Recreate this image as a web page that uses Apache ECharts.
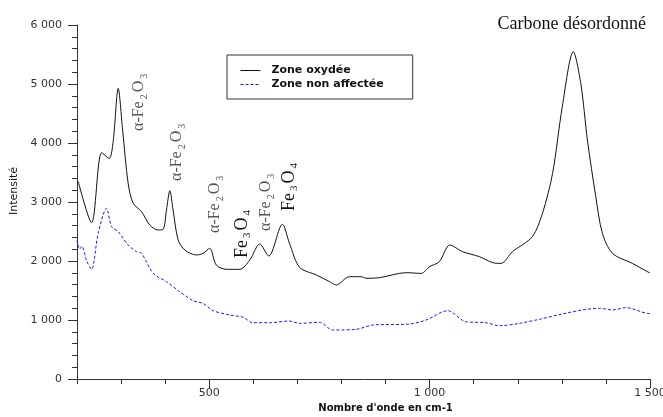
<!DOCTYPE html>
<html>
<head>
<meta charset="utf-8">
<script src="https://cdn.jsdelivr.net/npm/echarts@6/dist/echarts.min.js"></script>
<style>
  html, body { margin: 0; padding: 0; background: #fff; }
  #main { width: 663px; height: 417px; }
</style>
</head>
<body>
<div id="main"></div>
<script>
// Zone oxydée (trait plein noir)
var oxWave = [203, 233, 256, 273, 282, 293.5, 303.5, 316, 327.5, 346.5, 365, 384, 395.5, 403, 410.6, 418, 429.5, 444.6, 471, 486,
  501, 516, 539, 569, 592, 614.5, 635, 666, 682, 705, 743, 773, 788, 818, 845, 856, 886, 947, 981, 1000,
  1022, 1046, 1075, 1113, 1143, 1162, 1188, 1233, 1256, 1279, 1301, 1326, 1343, 1358, 1377, 1392, 1415, 1460, 1494, 1500];
var oxInt = [3344, 2650, 3836, 3740, 4022, 4927, 4220, 3317, 2978, 2836, 2610, 2525, 2537, 2865, 3192, 2865, 2356, 2186, 2102, 2130,
  2215, 1932, 1859, 1859, 2017, 2288, 2085, 2622, 2300, 1893, 1763, 1650, 1593, 1734, 1734, 1707, 1717, 1802, 1790, 1904,
  1988, 2271, 2158, 2073, 1972, 1960, 2158, 2412, 2807, 3485, 4616, 5548, 5010, 4051, 3090, 2469, 2129, 1960, 1819, 1800];

// Zone non affectée (tirets bleus)
var naWave = [200, 206, 211, 222, 233, 248, 267, 278.5, 293.5, 316, 335, 346.5, 373, 403, 433, 463, 486, 509, 546.5, 577,
  599, 637, 682, 705, 750, 780, 833, 871, 954, 992, 1041, 1082, 1128, 1158, 1203, 1249, 1301, 1347, 1385, 1415, 1445, 1494, 1500];
var naInt = [2356, 2200, 2250, 2000, 1859, 2469, 2893, 2582, 2497, 2271, 2158, 2129, 1790, 1649, 1480, 1327, 1281, 1158, 1085, 1046,
  954, 954, 983, 944, 961, 831, 841, 915, 932, 1000, 1158, 971, 954, 903, 942, 1012, 1102, 1170, 1198, 1170, 1209, 1112, 1110];

var xLabels = [500, 1000, 1500];

function zip(a, b) {
  return a.map(function (v, i) { return [v, b[i]]; });
}
function fmt(v) {
  return String(v).replace(/\B(?=(\d{3})+(?!\d))/g, ' ');
}

var chart = echarts.init(document.getElementById('main'));

var axisCol = '#333';
var sans = 'DejaVu Sans';
var serif = 'Liberation Serif';

function peakLabel(txt, x, y, big) {
  var main = big ? 18 : 16;
  var sub = big ? 11 : 10;
  var col = big ? '#111' : '#555';
  return {
    type: 'text',
    x: x, y: y,
    rotation: Math.PI / 2,
    style: {
      text: txt,
      align: 'left',
      verticalAlign: 'middle',
      fill: col,
      font: main + 'px "' + serif + '"',
      rich: {
        a: { fontFamily: serif, fontSize: main, fill: col, verticalAlign: 'top' },
        s: { fontFamily: serif, fontSize: sub, fill: col, verticalAlign: 'bottom', padding: [9, 2, 0, 2] }
      }
    }
  };
}

var option = {
  animation: false,
  title: {
    text: 'Carbone désordonné',
    right: 12,
    top: 10,
    textStyle: { fontFamily: serif, fontSize: 18, fontWeight: 'normal', color: '#111' }
  },
  legend: {
    orient: 'vertical',
    left: 227,
    top: 55,
    padding: [10, 29, 9, 13],
    itemGap: 3,
    itemWidth: 20,
    itemHeight: 10,
    borderColor: '#333',
    borderWidth: 1,
    itemStyle: { opacity: 0 },
    lineStyle: { width: 1 },
    textStyle: { fontFamily: sans, fontSize: 11, fontWeight: 'bold', color: '#111', padding: [0, 0, 0, 6] },
    data: ['Zone oxydée', 'Zone non affectée']
  },
  grid: { left: 77, right: 13, top: 25, bottom: 38, outerBoundsMode: 'none' },
  xAxis: [
    {
      type: 'value',
      min: 200,
      max: 1500,
      name: "Nombre d'onde en cm-1",
      nameLocation: 'middle',
      nameGap: 23,
      nameTextStyle: { fontFamily: sans, fontSize: 10, fontWeight: 'bold', color: '#111', padding: [0, 0, 0, 44] },
      axisLine: { lineStyle: { color: axisCol } },
      axisTick: { customValues: xLabels, length: 9, lineStyle: { color: axisCol } },
      axisLabel: { customValues: xLabels, formatter: fmt, fontFamily: sans, fontSize: 11, color: axisCol, margin: 9 },
      splitLine: { show: false }
    },
    {
      type: 'value',
      min: 200,
      max: 1500,
      interval: 100,
      position: 'bottom',
      axisLine: { show: false },
      axisTick: { length: 5, lineStyle: { color: axisCol } },
      axisLabel: { show: false },
      splitLine: { show: false }
    }
  ],
  yAxis: {
    type: 'value',
    min: 0,
    max: 6000,
    interval: 1000,
    name: 'Intensité',
    nameLocation: 'middle',
    nameGap: 54,
    nameTextStyle: { fontFamily: sans, fontSize: 11, color: '#111', padding: [0, 0, 0, 22] },
    axisLine: { show: true, lineStyle: { color: axisCol } },
    axisTick: { show: true, length: 9, lineStyle: { color: axisCol } },
    minorTick: { show: true, splitNumber: 5, length: 5, lineStyle: { color: axisCol } },
    axisLabel: { formatter: fmt, fontFamily: sans, fontSize: 11, color: axisCol, margin: 15 },
    splitLine: { show: false }
  },
  series: [
    {
      name: 'Zone oxydée',
      type: 'line',
      xAxisIndex: 0,
      symbol: 'none',
      smooth: 0.3,
      lineStyle: { color: '#111', width: 1 },
      itemStyle: { color: '#111' },
      data: zip(oxWave, oxInt)
    },
    {
      name: 'Zone non affectée',
      type: 'line',
      xAxisIndex: 0,
      symbol: 'none',
      smooth: 0.3,
      lineStyle: { color: '#1a1aff', width: 1, type: [3, 2] },
      itemStyle: { color: '#1a1aff' },
      data: zip(naWave, naInt)
    }
  ],
  graphic: [
    peakLabel('{a|α-Fe}{s|2}{a|O}{s|3}', 140, 131, false),
    peakLabel('{a|α-Fe}{s|2}{a|O}{s|3}', 178, 181, false),
    peakLabel('{a|α-Fe}{s|2}{a|O}{s|3}', 216, 233, false),
    peakLabel('{a|Fe}{s|3}{a|O}{s|4}', 243, 258, true),
    peakLabel('{a|α-Fe}{s|2}{a|O}{s|3}', 267, 231, false),
    peakLabel('{a|Fe}{s|3}{a|O}{s|4}', 290, 211, true)
  ]
};

chart.setOption(option);
</script>
</body>
</html>
